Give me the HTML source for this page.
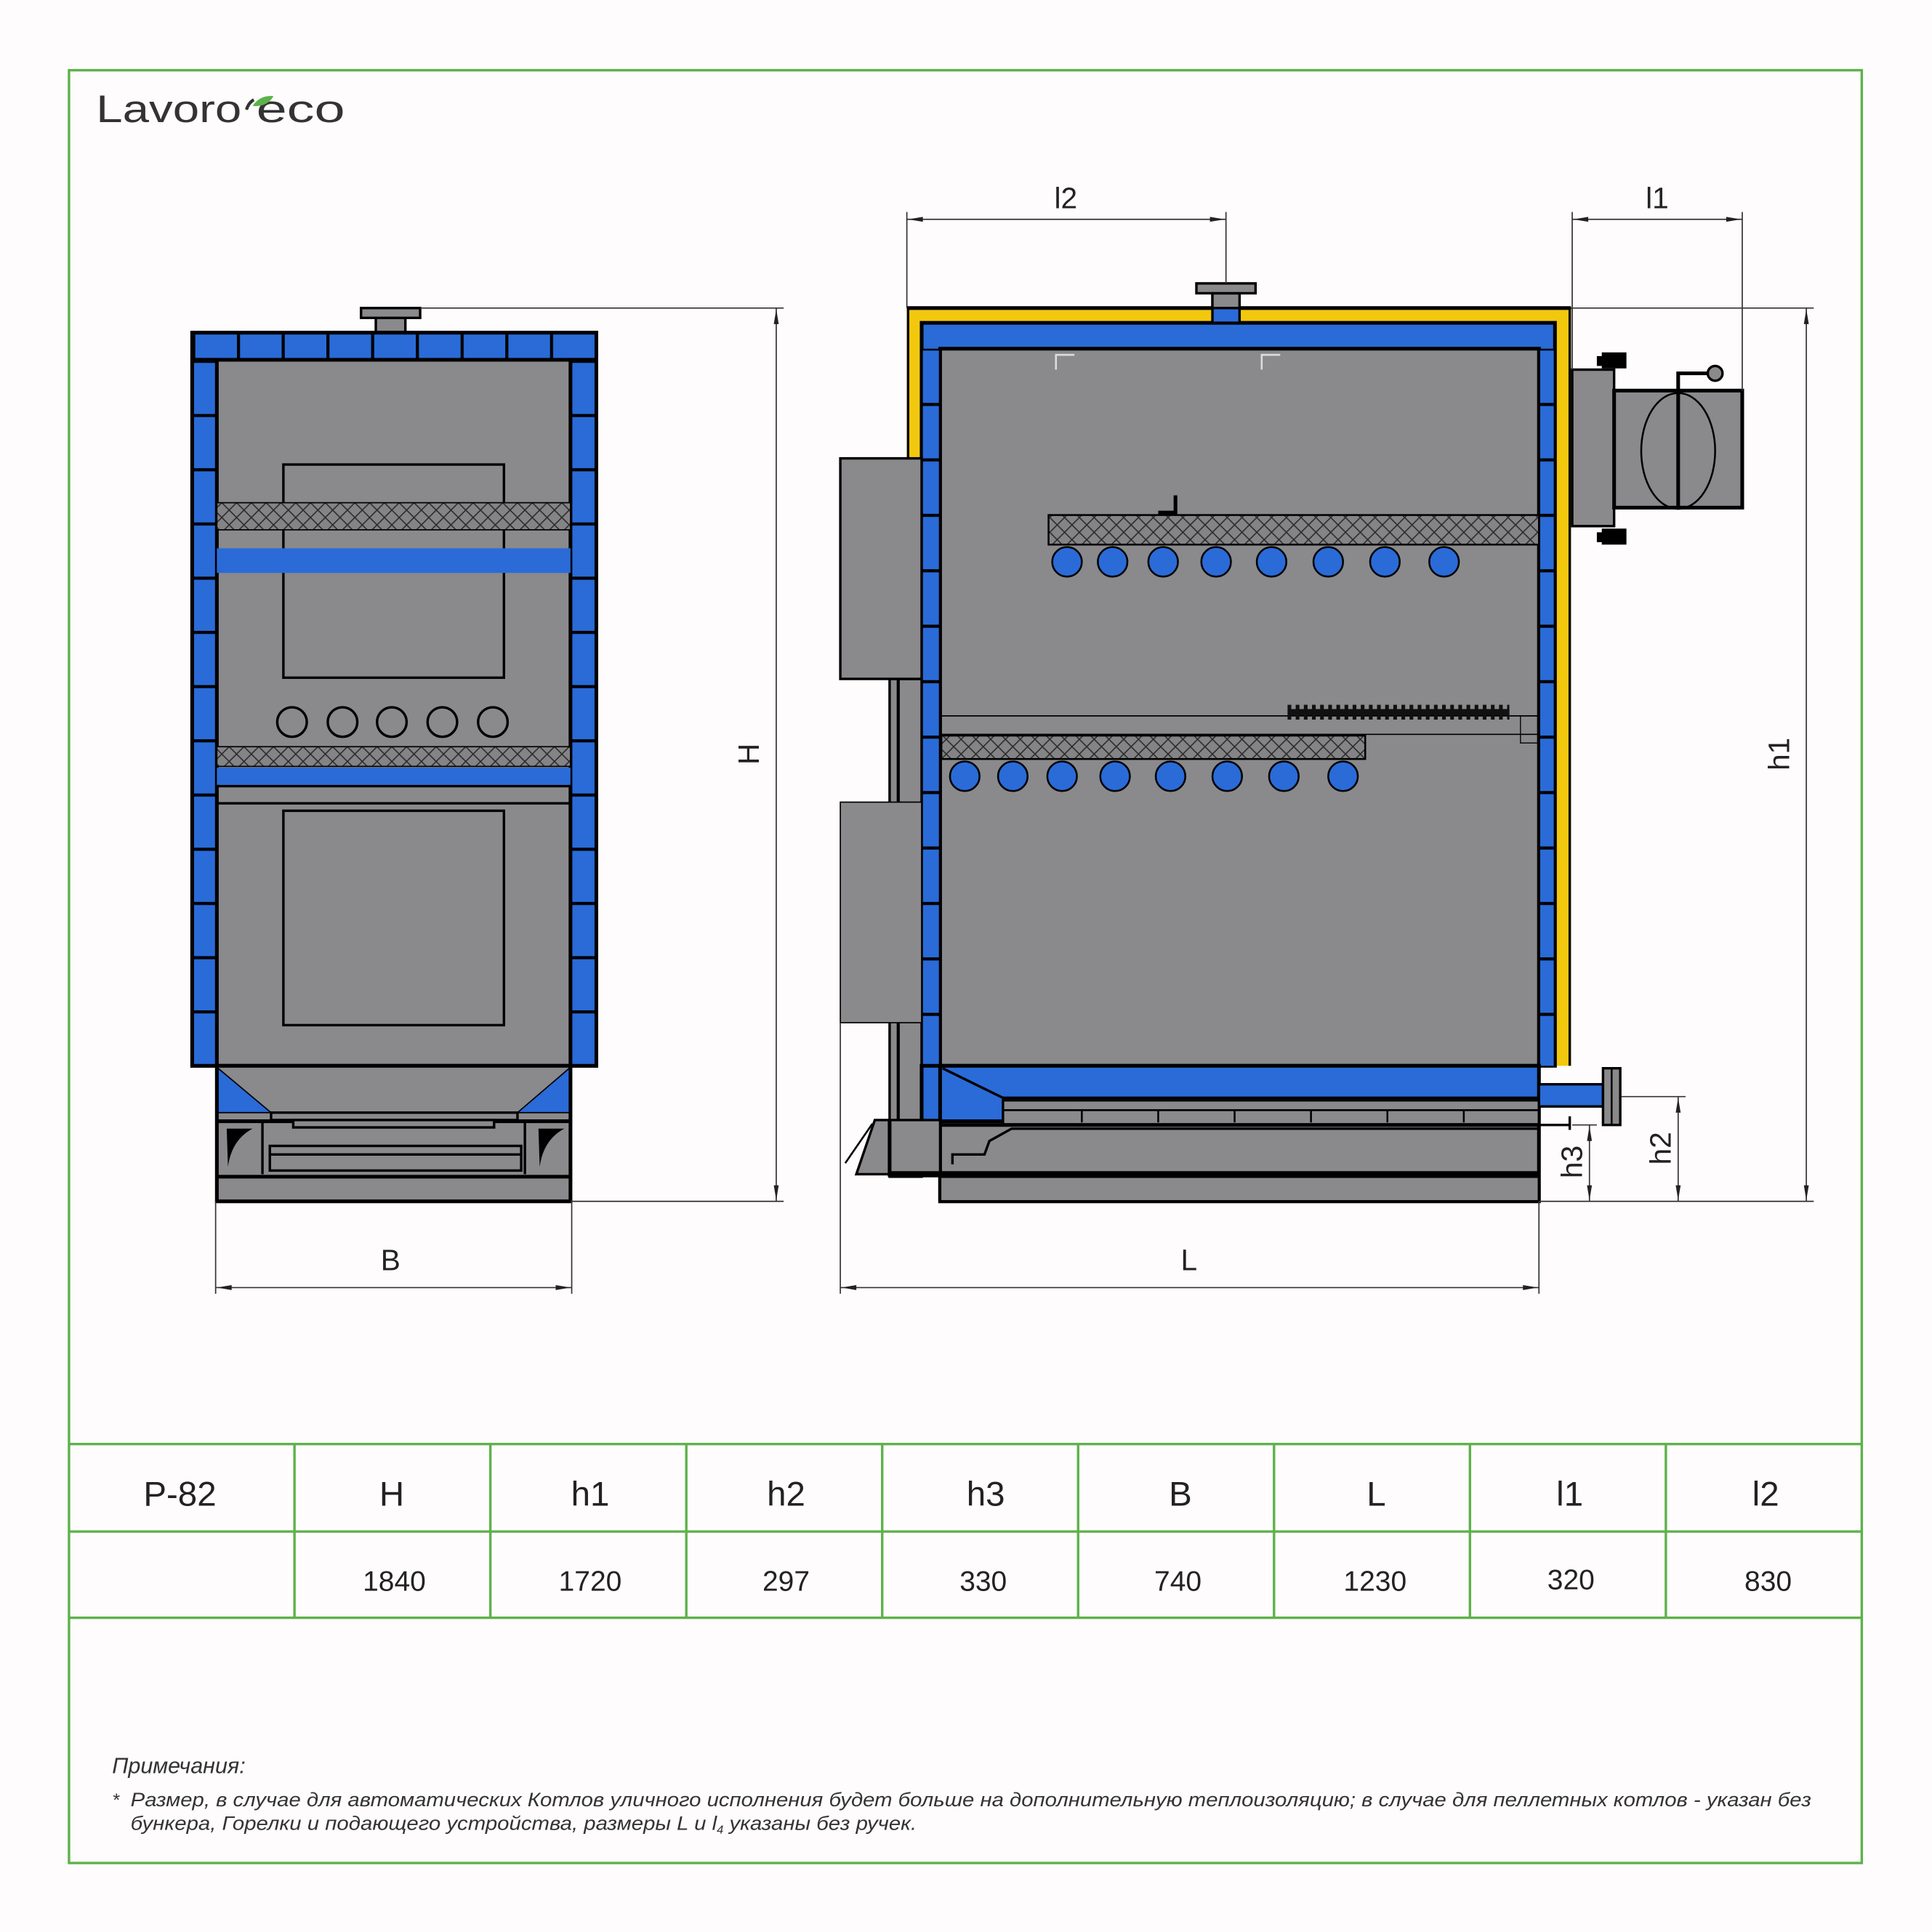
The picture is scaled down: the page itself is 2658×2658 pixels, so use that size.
<!DOCTYPE html>
<html><head><meta charset="utf-8"><style>html,body{margin:0;padding:0;background:#fefcfd}svg{display:block}</style></head><body>
<svg xmlns="http://www.w3.org/2000/svg" width="2658" height="2658" viewBox="0 0 1568 1568" font-family="'Liberation Sans', sans-serif">
<defs>
<pattern id="hatch" patternUnits="userSpaceOnUse" width="12" height="12">
<rect width="12" height="12" fill="#848385"/>
<path d="M0,0L12,12M12,0L0,12M-6,6L6,18M6,-6L18,6" stroke="#2a2a2a" stroke-width="0.9"/>
</pattern>
<pattern id="brickL" patternUnits="userSpaceOnUse" x="0" y="292" width="40" height="44"><rect width="40" height="44" fill="#2a6bd8"/><rect width="40" height="2.5" fill="#000"/></pattern>
<pattern id="brickR" patternUnits="userSpaceOnUse" x="0" y="327" width="20" height="45"><rect width="20" height="45" fill="#2a6bd8"/><rect width="20" height="2.5" fill="#000"/></pattern>
<pattern id="brickT" patternUnits="userSpaceOnUse" x="156" y="0" width="36.3" height="30"><rect width="36.3" height="30" fill="#2a6bd8"/><rect width="2.5" height="30" fill="#000"/></pattern>
</defs>
<rect width="1568" height="1568" fill="#fefcfd"/>
<rect x="56" y="57" width="1455" height="1455" fill="none" stroke="#5db24a" stroke-width="2"/>
<!-- logo -->
<text x="78" y="99" font-size="31" fill="#333" textLength="118" lengthAdjust="spacingAndGlyphs">Lavoro</text>
<text x="208" y="99" font-size="31" fill="#333" textLength="72" lengthAdjust="spacingAndGlyphs">eco</text>
<path d="M200,89 q2,-6 6,-8" fill="none" stroke="#333" stroke-width="2.5"/>
<path d="M205,86 q6,-9 17,-8 q-5,9 -17,8z" fill="#5db24a"/>

<!-- LEFT VIEW -->
<g stroke="#000" stroke-width="3">
<rect x="305" y="258" width="24" height="13" fill="#8a898b" stroke-width="2"/>
<rect x="293" y="250" width="48" height="8" fill="#8a898b" stroke-width="2"/>
<rect x="156" y="270" width="328" height="595" fill="#8a898b"/>
<rect x="156" y="270" width="328" height="22" fill="url(#brickT)"/>
<rect x="156" y="292" width="20" height="573" fill="url(#brickL)"/>
<rect x="463" y="292" width="21" height="573" fill="url(#brickL)"/>
<rect x="230" y="377" width="179" height="173" fill="none" stroke-width="2"/>
<rect x="176" y="408" width="287" height="22" fill="url(#hatch)" stroke-width="1"/>
<rect x="176" y="445" width="287" height="20" fill="#2a6bd8" stroke="none"/>
<g fill="#8a898b" stroke-width="2">
<circle cx="237" cy="586" r="12"/><circle cx="278" cy="586" r="12"/><circle cx="318" cy="586" r="12"/><circle cx="359" cy="586" r="12"/><circle cx="400" cy="586" r="12"/>
</g>
<rect x="176" y="606" width="287" height="16" fill="url(#hatch)" stroke-width="1"/>
<rect x="176" y="623" width="287" height="14" fill="#2a6bd8" stroke="none"/>
<line x1="176" y1="638" x2="463" y2="638" stroke-width="2"/>
<line x1="176" y1="652" x2="463" y2="652" stroke-width="2"/>
<rect x="230" y="658" width="179" height="174" fill="none" stroke-width="2"/>
<rect x="176" y="865" width="287" height="110" fill="#8a898b"/>
<path d="M177,867 L220,903 L177,903Z" fill="#2a6bd8" stroke-width="1"/>
<path d="M462,867 L420,903 L462,903Z" fill="#2a6bd8" stroke-width="1"/>
<rect x="220" y="903" width="200" height="6" fill="#8a898b" stroke-width="2"/>
<line x1="176" y1="910" x2="463" y2="910"/>
<rect x="238" y="909" width="163" height="6" fill="#8a898b" stroke-width="2"/>
<line x1="213" y1="910" x2="213" y2="953" stroke-width="2"/>
<line x1="426" y1="910" x2="426" y2="953" stroke-width="2"/>
<rect x="219" y="930" width="204" height="20" fill="none" stroke-width="2"/>
<line x1="219" y1="937" x2="423" y2="937" stroke-width="2"/>
<line x1="176" y1="955" x2="463" y2="955"/>
<path d="M184,916 L205,916 Q188,925 185,947Z" fill="#000" stroke="none"/>
<path d="M437,916 L458,916 Q441,925 438,947Z" fill="#000" stroke="none"/>
</g>
<!-- H dimension -->
<g stroke="#333" stroke-width="1" fill="none">
<line x1="341" y1="250" x2="636" y2="250"/><line x1="463" y1="975" x2="636" y2="975"/>
<line x1="630" y1="250" x2="630" y2="975"/>
<line x1="175" y1="975" x2="175" y2="1050"/><line x1="464" y1="975" x2="464" y2="1050"/>
<line x1="175" y1="1045" x2="464" y2="1045"/>
</g>
<g fill="#222"><path d="M630,251 l-2,12 h4z"/><path d="M630,974 l-2,-12 h4z"/><path d="M176,1045 l12,-2 v4z"/><path d="M463,1045 l-12,-2 v4z"/></g>
<text x="0" y="0" font-size="24" fill="#222" text-anchor="middle" transform="translate(616,612) rotate(-90)">H</text>
<text x="317" y="1031" font-size="24" fill="#222" text-anchor="middle">B</text>

<!-- RIGHT VIEW -->
<g stroke="#000" stroke-width="3">
<rect x="736" y="250" width="539" height="615" fill="#f2c80f" stroke="none"/>
<line x1="736" y1="250" x2="1275" y2="250"/>
<line x1="737" y1="250" x2="737" y2="372" stroke-width="2"/>
<line x1="1274" y1="250" x2="1274" y2="865" stroke-width="2"/>
<rect x="748" y="262" width="514" height="603" fill="#2a6bd8"/>
<rect x="763" y="283" width="486" height="582" fill="#8a898b"/>
<rect x="749" y="283" width="13" height="582" fill="url(#brickR)" stroke="none"/>
<rect x="1250" y="283" width="11" height="582" fill="url(#brickR)" stroke="none"/>
<rect x="984" y="238" width="22" height="24" fill="#2a6bd8" stroke-width="2"/>
<rect x="984" y="238" width="22" height="12" fill="#8a898b" stroke-width="2"/>
<rect x="971" y="230" width="48" height="8" fill="#8a898b" stroke-width="2"/>
<path d="M857,300 v-12 h15 M1024,300 v-12 h15" fill="none" stroke="#ddd" stroke-width="1.5"/>
<path d="M940,416 h14 v-14" fill="none" stroke-width="3"/>
<rect x="851" y="418" width="398" height="24" fill="url(#hatch)" stroke-width="1.5"/>
<g fill="#2a6bd8" stroke-width="1.5">
<ellipse cx="866" cy="456" rx="12" ry="12"/><ellipse cx="903" cy="456" rx="12" ry="12"/><ellipse cx="944" cy="456" rx="12" ry="12"/><ellipse cx="987" cy="456" rx="12" ry="12"/><ellipse cx="1032" cy="456" rx="12" ry="12"/><ellipse cx="1078" cy="456" rx="12" ry="12"/><ellipse cx="1124" cy="456" rx="12" ry="12"/><ellipse cx="1172" cy="456" rx="12" ry="12"/>
</g>
<line x1="763" y1="581" x2="1249" y2="581" stroke-width="1"/>
<line x1="763" y1="596" x2="1249" y2="596" stroke-width="1"/>
<rect x="1234" y="581" width="14" height="22" fill="none" stroke-width="0.8"/>
<line x1="1045" y1="578" x2="1225" y2="578" stroke-width="12" stroke-dasharray="3 3.6" stroke="#111"/>
<line x1="1045" y1="578" x2="1225" y2="578" stroke-width="5" stroke="#111"/>
<rect x="764" y="597" width="344" height="19" fill="url(#hatch)" stroke-width="1.5"/>
<g fill="#2a6bd8" stroke-width="1.5">
<circle cx="783" cy="630" r="12"/><circle cx="822" cy="630" r="12"/><circle cx="862" cy="630" r="12"/><circle cx="905" cy="630" r="12"/><circle cx="950" cy="630" r="12"/><circle cx="996" cy="630" r="12"/><circle cx="1042" cy="630" r="12"/><circle cx="1090" cy="630" r="12"/>
</g>
<!-- front boxes -->
<rect x="722" y="551" width="26" height="404" fill="#8a898b" stroke-width="2"/>
<line x1="729" y1="551" x2="729" y2="955" stroke-width="2.5"/>
<rect x="682" y="372" width="66" height="179" fill="#8a898b" stroke-width="2"/>
<rect x="682" y="651" width="66" height="179" fill="#8a898b" stroke-width="1"/>
<!-- bottom -->
<rect x="748" y="865" width="501" height="45" fill="#2a6bd8"/>
<line x1="763" y1="865" x2="763" y2="975"/>
<path d="M765,867 L814,891 L1249,891" fill="none" stroke-width="2"/>
<rect x="814" y="893" width="435" height="20" fill="#8a898b" stroke-width="2"/>
<path d="M878,901 v10 M940,901 v10 M1002,901 v10 M1064,901 v10 M1126,901 v10 M1188,901 v10" stroke-width="1.5"/>
<line x1="814" y1="901" x2="1249" y2="901" stroke-width="1.5"/>
<rect x="763" y="913" width="486" height="62" fill="#8a898b"/>
<line x1="763" y1="913" x2="1274" y2="913" stroke-width="2"/>
<line x1="1274" y1="906" x2="1274" y2="917" stroke-width="2"/>
<path d="M773,945 v-8 h26 l4,-11 l18,-10 h428" fill="none" stroke-width="2"/>
<path d="M710,909 h53 v44 h-68z" fill="#8a898b" stroke-width="2"/>
<line x1="722" y1="909" x2="722" y2="955"/>
<line x1="722" y1="953" x2="1249" y2="953" stroke-width="5"/>
<line x1="708" y1="912" x2="686" y2="944" stroke-width="1.5"/>
<rect x="763" y="955" width="486" height="20" fill="#8a898b" stroke-width="2"/>
<!-- right pipe -->
<rect x="1249" y="880" width="52" height="18" fill="#2a6bd8" stroke-width="2"/>
<rect x="1301" y="867" width="14" height="46" fill="#8a898b" stroke-width="2"/>
<line x1="1308" y1="867" x2="1308" y2="913" stroke-width="1.5"/>
<!-- chimney -->
<rect x="1276" y="300" width="34" height="127" fill="#8a898b" stroke-width="2"/>
<rect x="1310" y="317" width="104" height="95" fill="#8a898b"/>
<ellipse cx="1362" cy="366" rx="30" ry="47" fill="none" stroke-width="1.5"/>
<path d="M1362,412 V303 h25" fill="none" stroke-width="3"/>
<circle cx="1392" cy="303" r="6" fill="#8a898b" stroke-width="2"/>
<rect x="1300" y="286" width="20" height="13" fill="#000" stroke="none"/><rect x="1296" y="289" width="6" height="8" fill="#000" stroke="none"/>
<rect x="1300" y="429" width="20" height="13" fill="#000" stroke="none"/><rect x="1296" y="432" width="6" height="8" fill="#000" stroke="none"/>
</g>
<!-- right dims -->
<g stroke="#333" stroke-width="1" fill="none">
<line x1="736" y1="172" x2="736" y2="250"/><line x1="995" y1="172" x2="995" y2="230"/><line x1="736" y1="178" x2="995" y2="178"/>
<line x1="1276" y1="172" x2="1276" y2="300"/><line x1="1414" y1="172" x2="1414" y2="317"/><line x1="1276" y1="178" x2="1414" y2="178"/>
<line x1="1275" y1="250" x2="1472" y2="250"/><line x1="1249" y1="975" x2="1472" y2="975"/>
<line x1="1466" y1="250" x2="1466" y2="975"/>
<line x1="1316" y1="890" x2="1368" y2="890"/><line x1="1362" y1="890" x2="1362" y2="975"/>
<line x1="1276" y1="913" x2="1296" y2="913"/><line x1="1290" y1="913" x2="1290" y2="975"/>
<line x1="682" y1="830" x2="682" y2="1050"/><line x1="1249" y1="975" x2="1249" y2="1050"/>
<line x1="682" y1="1045" x2="1249" y2="1045"/>
</g>
<g fill="#222">
<path d="M737,178 l12,-2 v4z"/><path d="M994,178 l-12,-2 v4z"/>
<path d="M1277,178 l12,-2 v4z"/><path d="M1413,178 l-12,-2 v4z"/>
<path d="M1466,251 l-2,12 h4z"/><path d="M1466,974 l-2,-12 h4z"/>
<path d="M1362,891 l-2,12 h4z"/><path d="M1362,974 l-2,-12 h4z"/>
<path d="M1290,914 l-2,12 h4z"/><path d="M1290,974 l-2,-12 h4z"/>
<path d="M683,1045 l12,-2 v4z"/><path d="M1248,1045 l-12,-2 v4z"/>
</g>
<g font-size="24" fill="#222" text-anchor="middle">
<text x="865" y="169">l2</text>
<text x="1345" y="169">l1</text>
<text x="965" y="1031">L</text>
<text transform="translate(1452,612) rotate(-90)">h1</text>
<text transform="translate(1356,932) rotate(-90)">h2</text>
<text transform="translate(1284,943) rotate(-90)">h3</text>
</g>

<!-- TABLE -->
<g stroke="#5db24a" stroke-width="2">
<line x1="56" y1="1172" x2="1511" y2="1172"/><line x1="56" y1="1243" x2="1511" y2="1243"/><line x1="56" y1="1313" x2="1511" y2="1313"/>
<line x1="239" y1="1172" x2="239" y2="1313"/><line x1="398" y1="1172" x2="398" y2="1313"/><line x1="557" y1="1172" x2="557" y2="1313"/><line x1="716" y1="1172" x2="716" y2="1313"/><line x1="875" y1="1172" x2="875" y2="1313"/><line x1="1034" y1="1172" x2="1034" y2="1313"/><line x1="1193" y1="1172" x2="1193" y2="1313"/><line x1="1352" y1="1172" x2="1352" y2="1313"/>
</g>
<g font-size="28" fill="#222" text-anchor="middle">
<text x="146" y="1222">P-82</text><text x="318" y="1222">H</text><text x="479" y="1222">h1</text><text x="638" y="1222">h2</text><text x="800" y="1222">h3</text><text x="958" y="1222">B</text><text x="1117" y="1222">L</text><text x="1274" y="1222">l1</text><text x="1433" y="1222">l2</text>
</g>
<g font-size="23" fill="#222" text-anchor="middle">
<text x="320" y="1291">1840</text><text x="479" y="1291">1720</text><text x="638" y="1291">297</text><text x="798" y="1291">330</text><text x="956" y="1291">740</text><text x="1116" y="1291">1230</text><text x="1275" y="1290">320</text><text x="1435" y="1291">830</text>
</g>
<g font-style="italic" fill="#333">
<text x="91" y="1439" font-size="18">Примечания:</text>
<text x="91" y="1466" font-size="15">*</text>
<text x="106" y="1466" font-size="16" textLength="1364" lengthAdjust="spacingAndGlyphs">Размер, в случае для автоматических Котлов уличного исполнения будет больше на дополнительную теплоизоляцию; в случае для пеллетных котлов - указан без</text>
<text x="106" y="1485" font-size="16" textLength="638" lengthAdjust="spacingAndGlyphs">бункера, Горелки и подающего устройства, размеры L и l<tspan font-size="9" dy="3">4</tspan><tspan dy="-3"> указаны без ручек.</tspan></text>
</g>
</svg>
</body></html>
